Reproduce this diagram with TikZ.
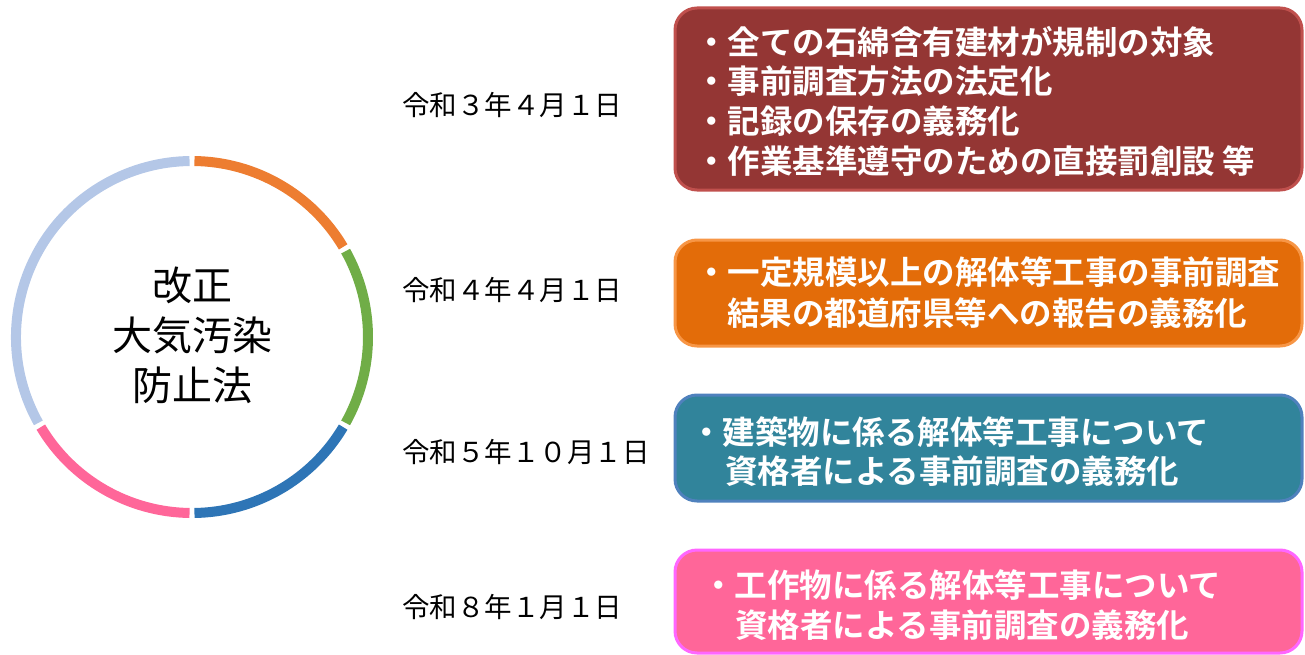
\documentclass[tikz,border=0pt]{standalone}
\usepackage{fontspec}
\newfontfamily\jp{Noto Sans CJK JP}
\newfontfamily\jpb{Noto Sans CJK JP Bold}
\definecolor{cOrange}{HTML}{ED7D31}
\definecolor{cGreen}{HTML}{70AD47}
\definecolor{cBlue}{HTML}{2E75B6}
\definecolor{cPink}{HTML}{FF6699}
\definecolor{cLight}{HTML}{B4C7E7}
\definecolor{bRedF}{HTML}{943634}
\definecolor{bRedD}{HTML}{C0504D}
\definecolor{bOrF}{HTML}{E36C09}
\definecolor{bOrD}{HTML}{F79646}
\definecolor{bTeF}{HTML}{31849B}
\definecolor{bTeD}{HTML}{4F81BD}
\definecolor{bPiF}{HTML}{FF6699}
\definecolor{bPiD}{HTML}{FF66FF}
\tikzset{
  seg/.style={line width=10pt},
  panel/.style={line width=3pt, rounded corners=22pt},
  boxtxt/.style={inner sep=0pt, anchor=west, text=white, font=\jpb\fontsize{32.5}{40}\selectfont},
  datetxt/.style={inner sep=0pt, anchor=west, font=\jp\fontsize{27.5}{34}\selectfont},
}
\begin{document}
\begin{tikzpicture}[x=1pt,y=-1pt]
\useasboundingbox (0,0) rectangle (1305,655);
% ring (y axis points down, so angles are measured clockwise)
\coordinate (c) at (192,337);
\def\R{176}
\draw[seg,cOrange] ([shift={(-89.2:\R)}]c) arc[start angle=-89.2,end angle=-30.8,radius=\R];
\draw[seg,cGreen] ([shift={(-29.2:\R)}]c) arc[start angle=-29.2,end angle=29.2,radius=\R];
\draw[seg,cBlue] ([shift={(30.8:\R)}]c) arc[start angle=30.8,end angle=89.2,radius=\R];
\draw[seg,cPink] ([shift={(90.8:\R)}]c) arc[start angle=90.8,end angle=149.2,radius=\R];
\draw[seg,cLight] ([shift={(150.8:\R)}]c) arc[start angle=150.8,end angle=269.2,radius=\R];
\node[inner sep=0pt, align=center, font=\jp\fontsize{40}{50}\selectfont] (title) at (192,335) {改正\\大気汚染\\防止法};
% dates
\node[datetxt] (d1) at (402,105) {令和３年４月１日};
\node[datetxt] (d2) at (402,290) {令和４年４月１日};
\node[datetxt] (d3) at (402,452) {令和５年１０月１日};
\node[datetxt] (d4) at (402,607) {令和８年１月１日};
% panels
\draw[panel, fill=bRedF, draw=bRedD] (675,8) rectangle (1302,190);
\draw[panel, fill=bOrF, draw=bOrD] (675,240) rectangle (1302,346);
\draw[panel, fill=bTeF, draw=bTeD] (675,395) rectangle (1302,501);
\draw[panel, fill=bPiF, draw=bPiD] (675,550) rectangle (1302,653);
% panel texts
\node[boxtxt] (p1a) at (695,42) {・全ての石綿含有建材が規制の対象};
\node[boxtxt] (p1b) at (695,81) {・事前調査方法の法定化};
\node[boxtxt] (p1c) at (695,121) {・記録の保存の義務化};
\node[boxtxt] (p1d) at (695,161) {・作業基準遵守のための直接罰創設\ 等};
\node[boxtxt] (p2a) at (695,272) {・一定規模以上の解体等工事の事前調査};
\node[boxtxt] (p2b) at (727,313) {結果の都道府県等への報告の義務化};
\node[boxtxt] (p3a) at (690,432) {・建築物に係る解体等工事について};
\node[boxtxt] (p3b) at (725,471) {資格者による事前調査の義務化};
\node[boxtxt] (p4a) at (702,585) {・工作物に係る解体等工事について};
\node[boxtxt] (p4b) at (735,625) {資格者による事前調査の義務化};
\end{tikzpicture}
\end{document}
